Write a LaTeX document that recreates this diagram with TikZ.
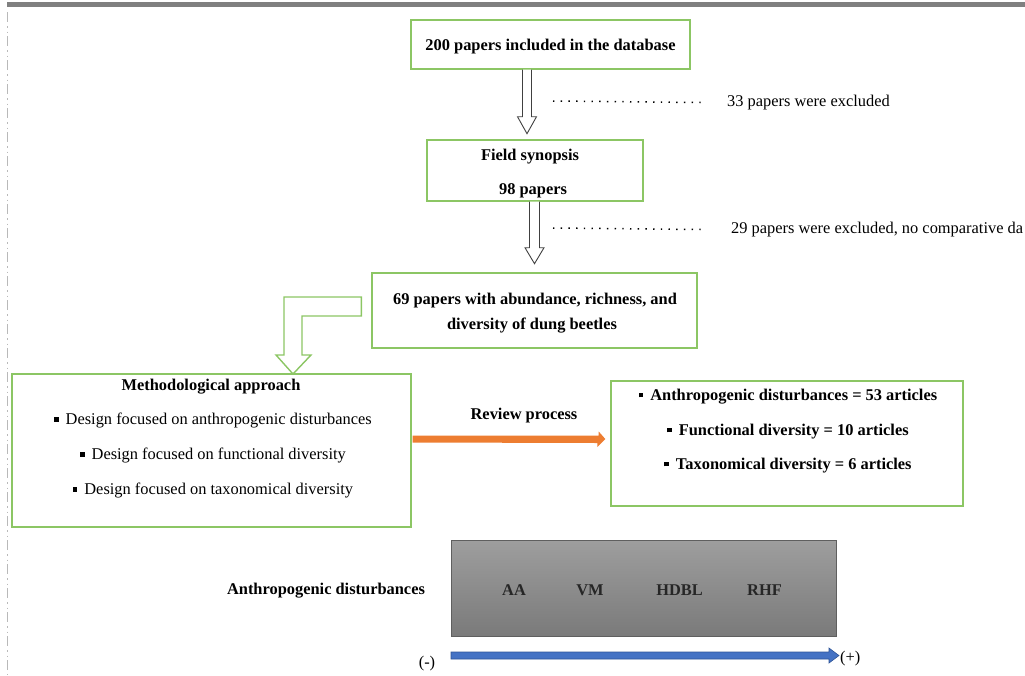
\documentclass[tikz,border=0pt]{standalone}
\usepackage{fontspec}
\setmainfont{Liberation Serif}
\usetikzlibrary{calc}
\definecolor{boxgreen}{RGB}{140,198,100}
\definecolor{orangearr}{RGB}{237,125,49}
\definecolor{bluearr}{RGB}{68,114,196}
\definecolor{bluedge}{RGB}{47,85,151}
\definecolor{topbar}{RGB}{128,128,128}
\definecolor{dashgray}{RGB}{185,185,185}
\definecolor{graytop}{RGB}{158,158,158}
\definecolor{graybot}{RGB}{122,122,122}
\definecolor{grayedge}{RGB}{95,95,95}
\newcommand{\sqbullet}{\rule[3pt]{4.5pt}{4.5pt}\hspace{7pt}}
\begin{document}
\begin{tikzpicture}[x=1pt,y=-1pt,
  greenbox/.style={draw=boxgreen, line width=1.4pt, fill=white, inner sep=0pt},
  txt/.style={inner sep=0pt, yshift=-1.5pt, font=\fontsize{16.4}{19}\selectfont},
  btxt/.style={inner sep=0pt, yshift=-1.5pt, font=\fontsize{16.4}{19}\selectfont\bfseries},
  hollowarrow/.style={draw=black!75, line width=0.9pt, fill=white, line join=miter},
  greenarrow/.style={draw=boxgreen, line width=1.4pt, fill=white, line join=miter},
  dotline/.style={draw=black, line width=1.5pt, dash pattern=on 1.4pt off 6.3pt},
  blockarrow/.style={line join=miter}]
\useasboundingbox (0,0) rectangle (1025,675);
% page decorations
\fill[topbar] (7,2) rectangle (1025,7);
\draw[dashgray, line width=1pt, dash pattern=on 10pt off 4pt on 1.5pt off 4pt on 1.5pt off 3pt] (7,12) -- (7,675);

% boxes
\node[greenbox, minimum width=279pt, minimum height=49pt] (b1) at (550.5,44.5) {};
\node[greenbox, minimum width=216pt, minimum height=61pt] (b2) at (535,170.5) {};
\node[greenbox, minimum width=325pt, minimum height=75pt] (b3) at (534.5,310.5) {};
\node[greenbox, minimum width=399pt, minimum height=153pt] (b4) at (211.5,450.5) {};
\node[greenbox, minimum width=352pt, minimum height=125pt] (b5) at (787,443.5) {};
\node[draw=grayedge, line width=0.8pt, top color=graytop, bottom color=graybot,
      minimum width=385pt, minimum height=96pt, inner sep=0pt] (g) at (643.5,588) {};

% texts in boxes
\node[btxt] (t1) at (550.5,45) {200 papers included in the database};
\node[btxt] (t2a) at (530,155) {Field synopsis};
\node[btxt] (t2b) at (533,189) {98 papers};
\node[btxt] (t3a) at (535,299) {69 papers with abundance, richness, and};
\node[btxt] (t3b) at (532,324) {diversity of dung beetles};
\node[btxt] (t4) at (211,385) {Methodological approach};
\node[txt] (t4a) at (213,419) {\sqbullet Design focused on anthropogenic disturbances};
\node[txt] (t4b) at (213,454) {\sqbullet Design focused on functional diversity};
\node[txt] (t4c) at (213,489) {\sqbullet Design focused on taxonomical diversity};
\node[btxt] (t5a) at (788,395) {\sqbullet Anthropogenic disturbances = 53 articles};
\node[btxt] (t5b) at (788,430) {\sqbullet Functional diversity = 10 articles};
\node[btxt] (t5c) at (788,464) {\sqbullet Taxonomical diversity = 6 articles};
\node[btxt, text=black!85] (aa) at (514,589) {AA};
\node[btxt, text=black!85] (vm) at (590,589) {VM};
\node[btxt, text=black!85] (hd) at (679.5,589) {HDBL};
\node[btxt, text=black!85] (rh) at (764.5,589) {RHF};
\node[btxt] (ad) at (326,589) {Anthropogenic disturbances};
\node[btxt] (rp) at (524,414) {Review process};

% exclusion notes
\node[txt, anchor=west] (x1) at (727,101) {33 papers were excluded};
\node[txt, anchor=west] (x2) at (731,228) {29 papers were excluded, no comparative da};
\coordinate (d1) at (553,101);
\coordinate (d2) at (553,228);
\draw[dotline] (d1) -- ($(x1.west)+(-26,0)$);
\draw[dotline] (d2) -- ($(x2.west)+(-30,0)$);

% hollow down arrows
\draw[hollowarrow] ($(b1.south)+(-28,0)$) -- ++(0,47) -- ++(-5,0) -- ++(9.5,17) -- ++(9.5,-17) -- ++(-5,0) -- ++(0,-47);
\draw[hollowarrow] ($(b2.south)+(-5.5,0)$) -- ++(0,46) -- ++(-4.5,0) -- ++(9.5,16) -- ++(9.5,-16) -- ++(-4.5,0) -- ++(0,-46);

% bent green arrow from b3 to b4
\draw[greenarrow] ($(b3.west)+(-10,-13.5)$) -- (284,297) -- (284,355) -- (276,355) -- (293,374)
  -- (311,355) -- (302,355) -- (302,316) -- ($(b3.west)+(-10,5.5)$) -- cycle;

% orange review arrow
\fill[orangearr, blockarrow] ($(b4.east)+(1,-15)$) -- ++(186,0) -- ++(0,-4) -- ($(b5.west)+(-5,-4.5)$)
  -- ++(-8,8) -- ++(0,-4) -- ($(b4.east)+(1,-8)$) -- cycle;

% blue gradient arrow
\coordinate (bs) at (451,652);
\coordinate (bt) at (839,655.5);
\filldraw[fill=bluearr, draw=bluedge, line width=0.6pt, blockarrow] (bs) -- (829,652) -- (829,648) -- (bt)
  -- (829,663) -- (829,659) -- (451,659) -- cycle;
\node[txt] (minus) at (427,662) {(-)};
\node[txt, anchor=west] (plus) at (840,657) {(+)};
\end{tikzpicture}
\end{document}
